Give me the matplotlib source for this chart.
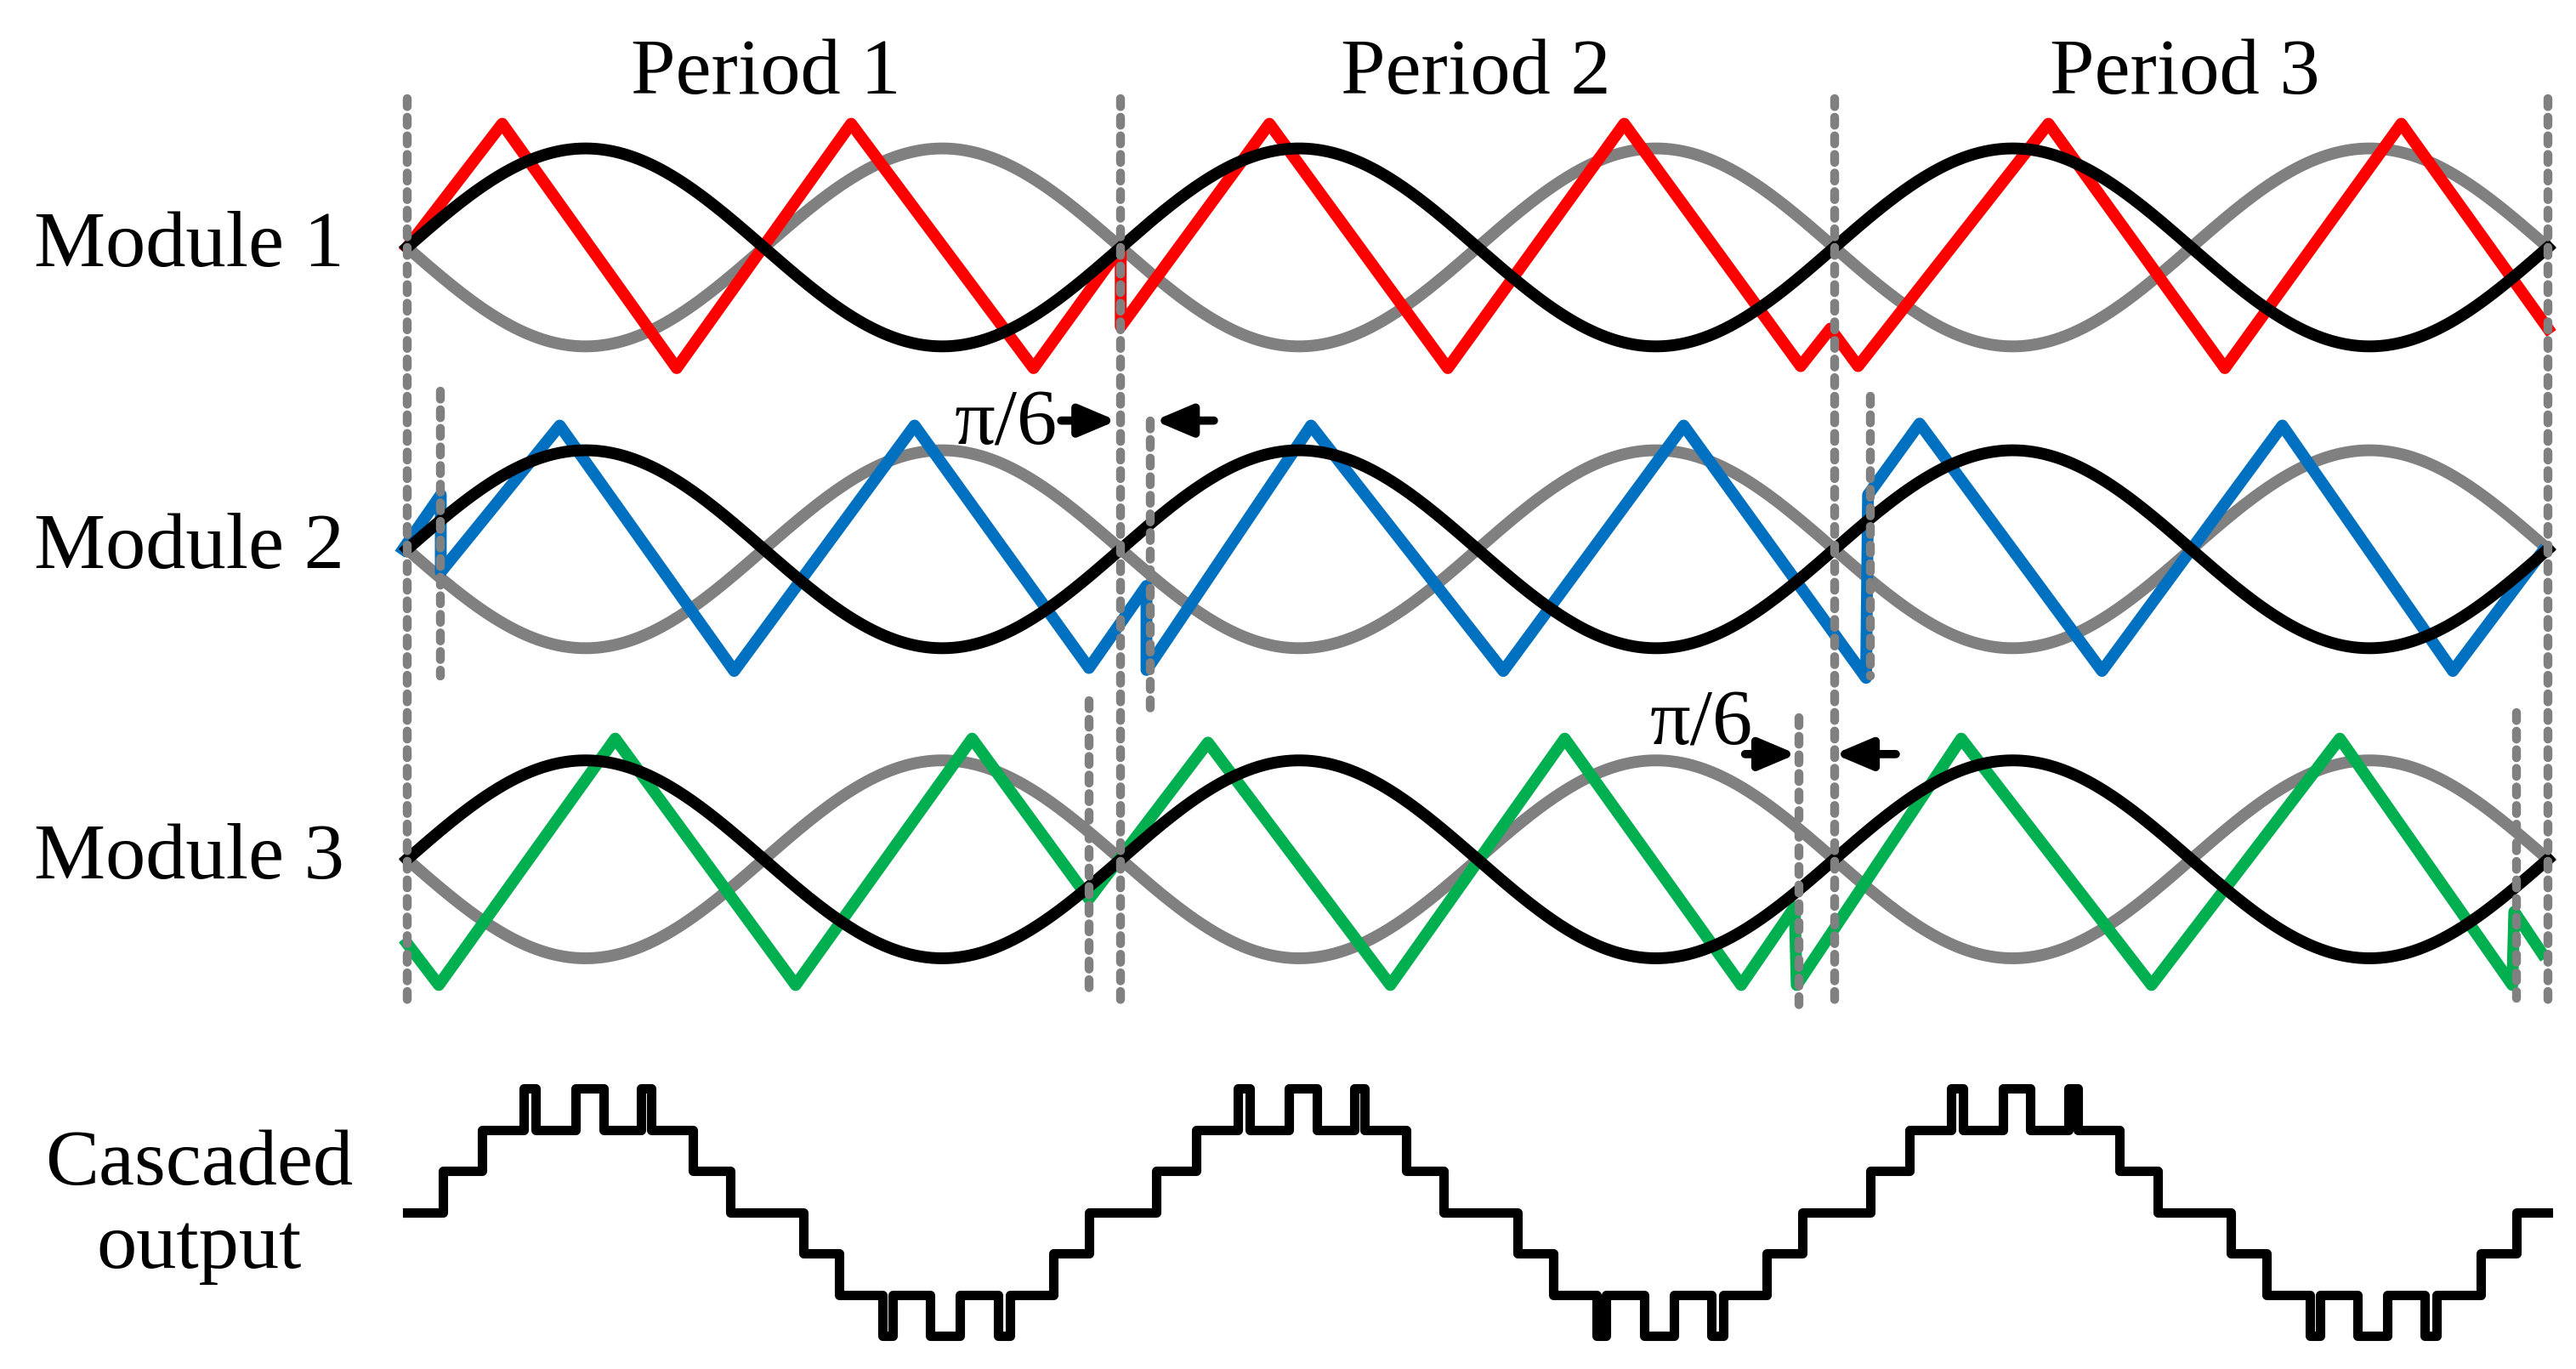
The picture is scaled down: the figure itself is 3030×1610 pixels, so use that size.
import numpy as np
import matplotlib
matplotlib.use("Agg")
import matplotlib.pyplot as plt

# carrier vertices: phase (deg) and normalised level
red_x = [0, 48, 136, 224, 316, 360, 360, 435, 525, 614, 703, 718, 732, 828, 917, 1006, 1080]
red_y = [0, 1.25, -1.22, 1.25, -1.22, 0.0, -0.8, 1.25, -1.22, 1.25, -1.2, -0.82, -1.2, 1.25, -1.22, 1.25, -0.82]
blue_x = [-2, 17, 17, 77, 165, 256, 344, 373, 373, 456, 553, 644, 736, 737, 763, 855, 946, 1032, 1077]
blue_y = [0, 0.55, -0.23, 1.25, -1.23, 1.25, -1.2, -0.37, -1.22, 1.25, -1.23, 1.25, -1.3, 0.55, 1.27, -1.23, 1.25, -1.23, -0.03]
green_x = [0, 16, 105, 196, 285, 344, 404, 496, 584, 673, 700, 701, 784, 880, 975, 1062, 1063, 1077]
green_y = [-0.85, -1.27, 1.22, -1.27, 1.22, -0.4, 1.18, -1.27, 1.22, -1.27, -0.48, -1.27, 1.22, -1.27, 1.22, -1.27, -0.53, -0.95]

# cascaded output, one period: switching angles and level after each edge
edge_deg = [18, 38, 59, 65, 85, 99, 118, 123, 144, 163, 200, 218, 240, 245, 264, 279, 298, 304, 326, 344]
edge_lvl = [1, 2, 3, 2, 3, 2, 3, 2, 1, 0, -1, -2, -3, -2, -3, -2, -3, -2, -1, 0]

periods = ["Period 1", "Period 2", "Period 3"]
modules = ["Module 1", "Module 2", "Module 3"]
carriers = [(red_x, red_y, "#FF0000"), (blue_x, blue_y, "#0070C0"), (green_x, green_y, "#00B050")]

S = 60.0  # px per unit in the 1563-wide layout
offs = [-150 / S, -333 / S, -521 / S]
out_off, step = -735 / S, 25 / S

fig = plt.figure(figsize=(30.3, 16.1), dpi=100)
ax = fig.add_axes([0, 0, 1, 1])
ax.set_xlim(-247 * 360 / 433, (1563 - 247) * 360 / 433)
ax.set_ylim(-830 / S, 0)
ax.axis("off")

lw = 10
th = np.linspace(0, 1080, 1200)
for off, (cx, cy, col) in zip(offs, carriers):
    ax.plot(th, off - np.sin(np.radians(th)), color="#808080", lw=lw, zorder=2)
    ax.plot(th, off + np.sin(np.radians(th)), color="black", lw=lw, zorder=3)
    ax.plot(cx, np.array(cy) + off, color=col, lw=lw, zorder=2.5, solid_joinstyle="round")

# staircase output
xs, ys = [0], [0]
for k in range(3):
    for d, l in zip(edge_deg, edge_lvl):
        xs.append(d + 360 * k)
        ys.append(l)
xs.append(1080)
ys.append(0)
ax.step(xs, out_off + np.array(ys) * step, where="post", color="black", lw=8, zorder=3)

# dashed guide lines (deg, top px, bottom px)
guides = [(0, 60, 610), (360, 60, 610), (720, 60, 610), (1080, 60, 610),
          (17, 237, 410), (375, 255, 435), (738, 240, 410),
          (344, 425, 605), (702, 435, 610), (1064, 432, 605)]
for gx, y0, y1 in guides:
    ax.plot([gx, gx], [-y0 / S, -y1 / S], color="#808080", lw=7.5,
            ls=(0, (0.9, 1.2)), dash_capstyle="round", zorder=4)

font = dict(family="Liberation Serif", fontsize=68)
for i, p in enumerate(periods):
    ax.text(181 + 358 * i, -45 / S, p, ha="center", va="center", **font)
for off, m in zip(offs, modules):
    ax.text(-110, off, m, ha="center", va="center", **font)
ax.text(-105, out_off + 0.05, "Cascaded\noutput", ha="center", va="center",
        linespacing=1.2, **font)

# pi/6 markers
arrow = dict(arrowstyle="-|>,head_length=2.6,head_width=1.1", color="black", lw=7,
             shrinkA=0, shrinkB=0)
for tx, ty, a0, a1, b0, b1, ay in [(302, -4.3, 330, 358, 407, 377, -4.25),
                                    (653, -7.33, 675, 701, 751, 720, -7.62)]:
    ax.text(tx, ty, "π/6", ha="center", va="center", **font)
    ax.annotate("", xy=(a1, ay), xytext=(a0, ay), arrowprops=arrow)
    ax.annotate("", xy=(b1, ay), xytext=(b0, ay), arrowprops=arrow)

fig.savefig("out.png", dpi=100)
